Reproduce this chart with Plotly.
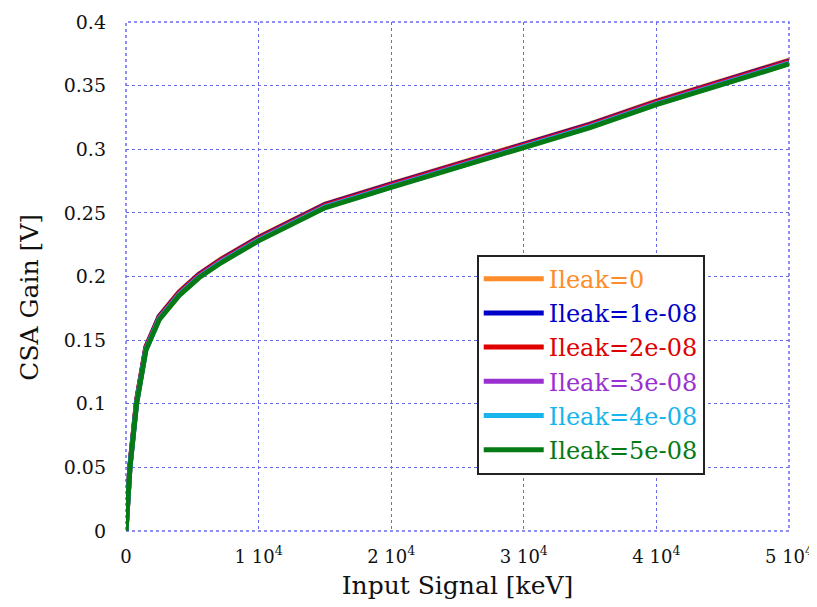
import plotly.graph_objects as go

input_kev = [0, 300, 800, 1500, 2500, 4000, 5500, 7200, 10000, 15000, 20000,
             25000, 30000, 35000, 40000, 45000, 50000]

gain_0 = [0, 0.052, 0.103, 0.145, 0.169, 0.188, 0.202, 0.214, 0.231, 0.257,
          0.273, 0.289, 0.304, 0.320, 0.338, 0.354, 0.370]
gain_1e8 = [0, 0.0515, 0.1025, 0.1445, 0.1685, 0.1875, 0.2015, 0.2135, 0.2305,
            0.2565, 0.2725, 0.2885, 0.3035, 0.3195, 0.3375, 0.3535, 0.3695]
gain_2e8 = [0, 0.051, 0.102, 0.144, 0.168, 0.187, 0.201, 0.213, 0.230, 0.256,
            0.272, 0.288, 0.303, 0.319, 0.337, 0.353, 0.369]
gain_3e8 = [0, 0.0505, 0.101, 0.143, 0.167, 0.186, 0.200, 0.212, 0.229, 0.255,
            0.271, 0.287, 0.302, 0.318, 0.336, 0.352, 0.368]
gain_4e8 = [0, 0.0502, 0.1005, 0.1425, 0.1665, 0.1855, 0.1995, 0.2115, 0.2285,
            0.2545, 0.2705, 0.2865, 0.3015, 0.3175, 0.3355, 0.3515, 0.3675]
gain_5e8 = [0, 0.050, 0.100, 0.142, 0.166, 0.185, 0.199, 0.211, 0.228, 0.254,
            0.270, 0.286, 0.301, 0.317, 0.335, 0.351, 0.367]

series_names = ["Ileak=0", "Ileak=1e-08", "Ileak=2e-08", "Ileak=3e-08",
                "Ileak=4e-08", "Ileak=5e-08"]
series_values = [gain_0, gain_1e8, gain_2e8, gain_3e8, gain_4e8, gain_5e8]
series_colors = ["#ff8c2a", "#0000c8", "#e00000", "#9a30d0", "#18b4ec", "#067a14"]

x_tick_vals = [0, 10000, 20000, 30000, 40000, 50000]
x_tick_text = ["0", "1 10<sup>4</sup>", "2 10<sup>4</sup>", "3 10<sup>4</sup>",
               "4 10<sup>4</sup>", "5 10<sup>4</sup>"]
y_tick_vals = [0, 0.05, 0.1, 0.15, 0.2, 0.25, 0.3, 0.35, 0.4]
y_tick_text = ["0", "0.05", "0.1", "0.15", "0.2", "0.25", "0.3", "0.35", "0.4"]

serif = "DejaVu Serif, Liberation Serif, serif"

fig = go.Figure()
for name, vals, col in zip(series_names, series_values, series_colors):
    fig.add_trace(go.Scatter(
        x=input_kev, y=vals, mode="lines",
        name=f'<span style="color:{col}">{name}</span>',
        line=dict(color=col, width=5),
    ))

grid_col = "rgb(105,105,235)"
fig.update_layout(
    width=809, height=599,
    margin=dict(l=118, r=28, t=14, b=76),
    paper_bgcolor="white", plot_bgcolor="white",
    font=dict(family=serif, color="#111111"),
    showlegend=True,
    legend=dict(
        x=0.529, y=0.543, xanchor="left", yanchor="top",
        bgcolor="white", bordercolor="#222222", borderwidth=2,
        font=dict(family=serif, size=24),
        tracegroupgap=0, itemwidth=60,
    ),
    xaxis=dict(
        range=[0, 50000], tickmode="array", tickvals=x_tick_vals,
        ticktext=x_tick_text, tickfont=dict(size=18),
        showgrid=True, gridcolor=grid_col, griddash="dot", gridwidth=1,
        zeroline=False, showline=False, ticks="", automargin=False,
        ticklabelstandoff=13,
        title=dict(text="Input Signal [keV]", font=dict(size=25), standoff=10),
    ),
    yaxis=dict(
        range=[0, 0.4], tickmode="array", tickvals=y_tick_vals,
        ticktext=y_tick_text, tickfont=dict(size=19),
        showgrid=True, gridcolor=grid_col, griddash="dot", gridwidth=1,
        zeroline=False, showline=False, ticks="", automargin=False,
        ticklabelstandoff=19,
    ),
    annotations=[dict(
        text="CSA Gain [V]", xref="paper", yref="paper",
        x=-0.145, y=0.46, xanchor="center", yanchor="middle",
        textangle=-90, showarrow=False, font=dict(size=25, family=serif),
    )],
    shapes=[dict(
        type="rect", xref="paper", yref="paper", x0=0, x1=1, y0=0, y1=1,
        line=dict(color=grid_col, width=1.5, dash="dot"), layer="below",
    )],
)

fig.write_html("out.html")
